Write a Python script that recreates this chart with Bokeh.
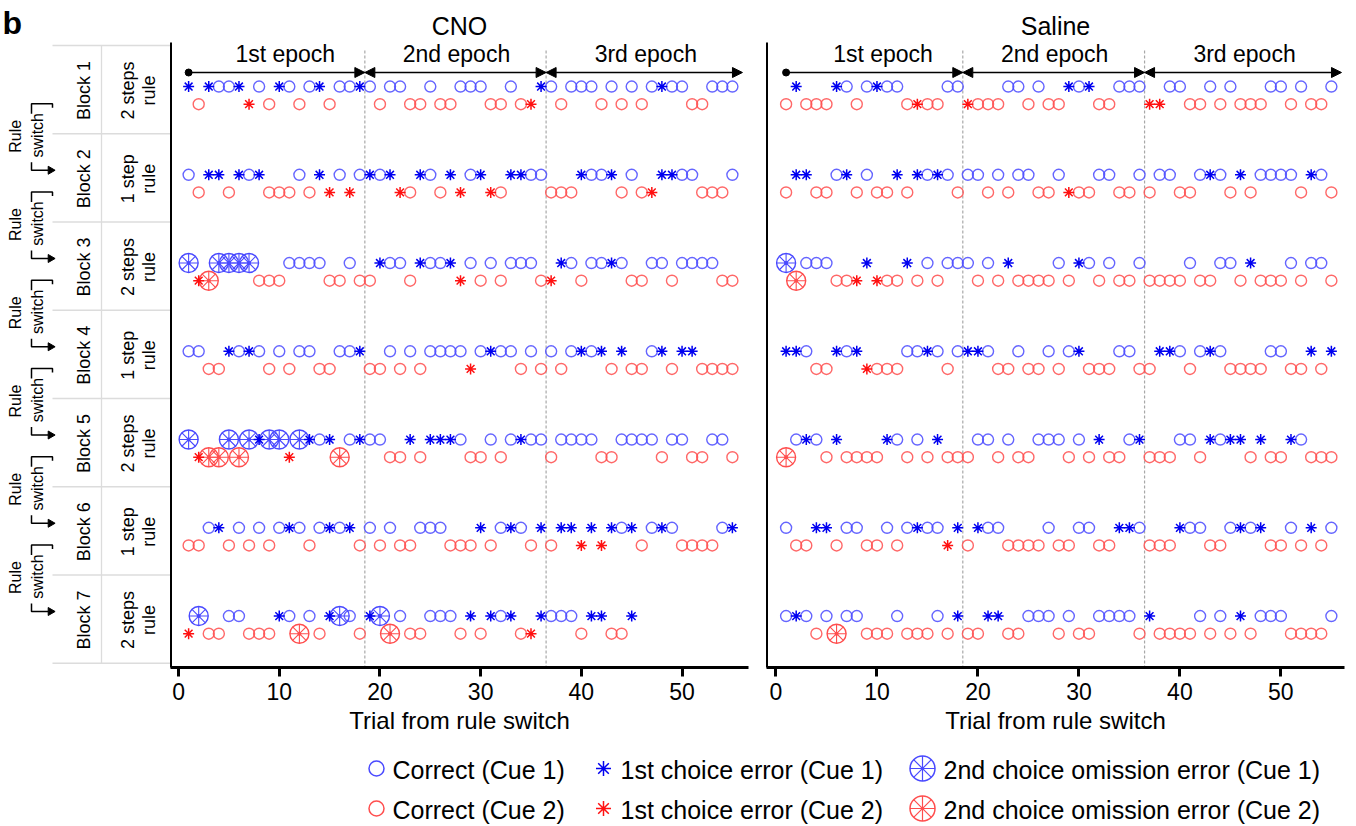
import math
from bokeh.plotting import figure
from bokeh.models import Range1d, ColumnDataSource, FixedTicker, Arrow, NormalHead
from bokeh.layouts import row, column
from bokeh.embed import file_html
from bokeh.resources import INLINE
from bokeh.core.properties import value

# ---------------- data ----------------
trial_ticks = [0, 10, 20, 30, 40, 50]
epoch_bounds = [1, 18.5, 36.5, 56]
epoch_labels = ["1st epoch", "2nd epoch", "3rd epoch"]
block_names = ["Block 1", "Block 2", "Block 3", "Block 4", "Block 5", "Block 6", "Block 7"]
block_rules = ["2 steps\nrule", "1 step\nrule", "2 steps\nrule", "1 step\nrule",
               "2 steps\nrule", "1 step\nrule", "2 steps\nrule"]
panel_titles = ["CNO", "Saline"]
legend_labels = ["Correct (Cue 1)", "1st choice error (Cue 1)", "2nd choice omission error (Cue 1)",
                 "Correct (Cue 2)", "1st choice error (Cue 2)", "2nd choice omission error (Cue 2)"]

cno_block1 = dict(
    c1_correct=[4, 5, 8, 11, 13, 16, 17, 19, 21, 22, 25, 28, 29, 30, 33, 37, 39, 40, 41, 43, 45, 47, 49, 50, 53, 54, 55],
    c1_error=[1, 3, 6, 10, 14, 18, 36, 48], c1_omit=[],
    c2_correct=[2, 9, 12, 15, 20, 23, 24, 26, 27, 31, 32, 34, 38, 42, 44, 46, 51, 52],
    c2_error=[7, 35], c2_omit=[])
cno_block2 = dict(
    c1_correct=[1, 7, 12, 16, 18, 20, 25, 29, 35, 36, 41, 42, 45, 50, 51, 55],
    c1_error=[3, 4, 6, 8, 14, 19, 21, 24, 27, 30, 33, 34, 40, 43, 48, 49], c1_omit=[],
    c2_correct=[2, 5, 9, 10, 11, 13, 23, 26, 32, 37, 38, 39, 44, 46, 52, 53, 54],
    c2_error=[15, 17, 22, 28, 31, 47], c2_omit=[])
cno_block3 = dict(
    c1_correct=[11, 12, 13, 14, 17, 21, 22, 25, 26, 29, 31, 33, 34, 35, 39, 41, 42, 44, 47, 48, 50, 51, 52, 53],
    c1_error=[20, 24, 27, 38, 43], c1_omit=[1, 4, 5, 6, 7],
    c2_correct=[8, 9, 10, 15, 16, 18, 19, 23, 30, 32, 36, 40, 45, 46, 49, 54, 55],
    c2_error=[2, 28, 37], c2_omit=[3])
cno_block4 = dict(
    c1_correct=[1, 2, 6, 8, 10, 12, 13, 16, 17, 21, 23, 25, 26, 27, 28, 30, 32, 33, 35, 37, 39, 41, 47],
    c1_error=[5, 7, 18, 31, 40, 42, 44, 48, 50, 51], c1_omit=[],
    c2_correct=[3, 4, 9, 11, 14, 15, 19, 20, 22, 24, 34, 36, 38, 43, 45, 46, 49, 52, 53, 54, 55],
    c2_error=[29], c2_omit=[])
cno_block5 = dict(
    c1_correct=[14, 17, 19, 20, 28, 31, 33, 35, 36, 38, 39, 40, 41, 44, 45, 46, 47, 49, 50, 53, 54],
    c1_error=[8, 13, 15, 18, 23, 25, 26, 27, 34], c1_omit=[1, 5, 7, 9, 10, 12],
    c2_correct=[21, 22, 24, 29, 30, 32, 37, 42, 43, 48, 51, 52, 55],
    c2_error=[2, 11], c2_omit=[3, 4, 6, 16])
cno_block6 = dict(
    c1_correct=[3, 6, 8, 10, 12, 14, 16, 19, 21, 24, 25, 26, 32, 34, 44, 47, 49, 54],
    c1_error=[4, 11, 15, 17, 30, 33, 36, 38, 39, 41, 43, 45, 48, 55], c1_omit=[],
    c2_correct=[1, 2, 5, 7, 9, 13, 18, 20, 22, 23, 27, 28, 29, 31, 35, 37, 46, 50, 51, 52, 53],
    c2_error=[40, 42], c2_omit=[])
cno_block7 = dict(
    c1_correct=[5, 6, 11, 13, 17, 22, 25, 26, 27, 32, 37, 38, 39],
    c1_error=[10, 15, 19, 29, 31, 33, 36, 41, 42, 45], c1_omit=[2, 16, 20],
    c2_correct=[3, 4, 7, 8, 9, 14, 18, 23, 24, 28, 30, 34, 40, 43, 44],
    c2_error=[1, 35], c2_omit=[12, 21])

saline_block1 = dict(
    c1_correct=[7, 9, 11, 12, 17, 18, 23, 24, 26, 30, 34, 35, 36, 39, 40, 43, 45, 49, 50, 52, 55],
    c1_error=[2, 6, 10, 29, 31], c1_omit=[],
    c2_correct=[1, 3, 4, 5, 8, 13, 15, 16, 20, 21, 22, 25, 27, 28, 32, 33, 41, 42, 44, 46, 47, 48, 51, 53, 54],
    c2_error=[14, 19, 37, 38], c2_omit=[])
saline_block2 = dict(
    c1_correct=[6, 9, 15, 17, 19, 20, 22, 24, 25, 28, 32, 33, 36, 38, 39, 42, 44, 48, 49, 50, 51, 54],
    c1_error=[2, 3, 7, 12, 14, 16, 43, 46, 53], c1_omit=[],
    c2_correct=[1, 4, 5, 8, 10, 11, 13, 18, 21, 23, 26, 27, 30, 31, 34, 35, 37, 40, 41, 45, 47, 52, 55],
    c2_error=[29], c2_omit=[])
saline_block3 = dict(
    c1_correct=[3, 4, 5, 15, 17, 18, 19, 21, 28, 31, 33, 36, 41, 44, 45, 51, 53, 54],
    c1_error=[9, 13, 23, 30, 47], c1_omit=[1],
    c2_correct=[6, 7, 11, 12, 14, 16, 20, 22, 24, 25, 26, 27, 29, 32, 34, 35, 37, 38, 39, 40, 42, 43, 46, 48, 49, 50, 52, 55],
    c2_error=[8, 10], c2_omit=[2])
saline_block4 = dict(
    c1_correct=[3, 7, 13, 14, 16, 18, 21, 24, 27, 29, 34, 35, 40, 42, 44, 49, 50],
    c1_error=[1, 2, 6, 8, 15, 19, 20, 30, 38, 39, 43, 53, 55], c1_omit=[],
    c2_correct=[4, 5, 10, 11, 12, 17, 22, 23, 25, 26, 28, 31, 32, 33, 36, 37, 41, 45, 46, 47, 48, 51, 52, 54],
    c2_error=[9], c2_omit=[])
saline_block5 = dict(
    c1_correct=[2, 4, 12, 14, 20, 21, 23, 26, 27, 28, 30, 35, 40, 41, 44, 52],
    c1_error=[3, 6, 11, 16, 32, 36, 43, 45, 46, 48, 51], c1_omit=[],
    c2_correct=[5, 7, 8, 9, 10, 13, 15, 17, 18, 19, 22, 24, 25, 29, 31, 33, 34, 37, 38, 39, 42, 47, 49, 50, 53, 54, 55],
    c2_error=[], c2_omit=[1])
saline_block6 = dict(
    c1_correct=[1, 7, 8, 11, 13, 15, 16, 21, 22, 27, 30, 31, 36, 41, 42, 45, 47, 51, 55],
    c1_error=[4, 5, 14, 18, 20, 34, 35, 40, 46, 48, 53], c1_omit=[],
    c2_correct=[2, 3, 6, 9, 10, 12, 19, 23, 24, 25, 26, 28, 29, 32, 33, 37, 38, 39, 43, 44, 49, 50, 52, 54],
    c2_error=[17], c2_omit=[])
saline_block7 = dict(
    c1_correct=[1, 3, 5, 7, 8, 12, 16, 25, 26, 27, 29, 32, 33, 34, 35, 42, 44, 48, 49, 50, 55],
    c1_error=[2, 18, 21, 22, 37, 46], c1_omit=[],
    c2_correct=[4, 9, 10, 11, 13, 14, 15, 17, 19, 20, 23, 24, 28, 30, 31, 36, 38, 39, 40, 41, 43, 45, 47, 51, 52, 53, 54],
    c2_error=[], c2_omit=[6])

cno_blocks = [cno_block1, cno_block2, cno_block3, cno_block4, cno_block5, cno_block6, cno_block7]
saline_blocks = [saline_block1, saline_block2, saline_block3, saline_block4, saline_block5, saline_block6, saline_block7]

# ---------------- style ----------------
FONT = "Liberation Sans"
BLUE_C = "#4a4aff"
BLUE_S = "#0000f0"
RED_C = "#ff4e4e"
RED_S = "#ff1010"

ROW_H = 752
TOP = 42
BOTTOM = 85
Y_RANGE_DATA = (7.483, 0.401)     # block units, inverted
ROW_OFF = 0.1
PX = 1.0 / 88.25                   # one screen pixel in block units


def txt(p, x, y, t, size, angle=0.0, align="center", baseline="middle", style="normal", color="black"):
    p.text(x=x, y=y, text=t, angle=angle, text_align=align, text_baseline=baseline,
           text_font=value(FONT), text_font_size=size, text_font_style=style, text_color=color,
           text_line_height=1.05)


def make_panel(title, blocks, xr, width, border_right):
    p = figure(width=width, height=ROW_H, x_range=Range1d(*xr), y_range=Range1d(*Y_RANGE_DATA),
               output_backend="svg", toolbar_location=None, title=title,
               min_border_left=0, min_border_right=border_right, min_border_top=TOP,
               min_border_bottom=BOTTOM)
    p.outline_line_color = None
    p.grid.visible = False
    p.title.align = "center"
    p.title.text_font = FONT
    p.title.text_font_size = "25px"
    p.title.text_font_style = "normal"
    p.title.text_color = "black"
    p.title.standoff = 6

    xa = p.xaxis[0]
    xa.ticker = FixedTicker(ticks=trial_ticks)
    xa.axis_line_width = 3
    xa.axis_line_color = "black"
    xa.major_tick_line_width = 3
    xa.major_tick_line_color = "black"
    xa.major_tick_out = 9
    xa.major_tick_in = 0
    xa.minor_tick_line_color = None
    xa.major_label_text_font = FONT
    xa.major_label_text_font_size = "23px"
    xa.major_label_text_color = "black"
    xa.major_label_standoff = 6
    xa.axis_label = "Trial from rule switch"
    xa.axis_label_text_font = FONT
    xa.axis_label_text_font_size = "24px"
    xa.axis_label_text_font_style = "normal"
    xa.axis_label_text_color = "black"
    xa.axis_label_standoff = 4

    ya = p.yaxis[0]
    ya.ticker = FixedTicker(ticks=[])
    ya.axis_line_width = 3
    ya.axis_line_color = "black"
    ya.major_tick_line_color = None
    ya.minor_tick_line_color = None
    ya.major_label_text_font_size = "0px"
    ya.major_tick_out = 0
    ya.major_label_standoff = 0

    # epoch dividers
    p.segment(x0=epoch_bounds[1:3], x1=epoch_bounds[1:3], y0=[Y_RANGE_DATA[1] + 8 * PX] * 2,
              y1=[Y_RANGE_DATA[0]] * 2, line_color="#a8a8a8", line_dash="3 2", line_width=1.2)

    # epoch arrows
    ya_arrow = 0.741
    src1 = ColumnDataSource(dict(x0=[epoch_bounds[0]], x1=[epoch_bounds[1]], y=[ya_arrow]))
    p.add_layout(Arrow(end=NormalHead(size=10, fill_color="black", line_color="black", line_width=1),
                       x_start="x0", y_start="y", x_end="x1", y_end="y", source=src1, line_width=1.6))
    src2 = ColumnDataSource(dict(x0=epoch_bounds[1:3], x1=epoch_bounds[2:4], y=[ya_arrow] * 2))
    p.add_layout(Arrow(start=NormalHead(size=10, fill_color="black", line_color="black", line_width=1),
                       end=NormalHead(size=10, fill_color="black", line_color="black", line_width=1),
                       x_start="x0", y_start="y", x_end="x1", y_end="y", source=src2, line_width=1.6))
    p.scatter(x=[epoch_bounds[0]], y=[ya_arrow], size=7, marker="circle", color="black")

    label_x = [10.6, 27.6, 46.4]
    txt(p, label_x, [0.526] * 3, epoch_labels, "23px")

    # trial markers
    cols = {k: ([], []) for k in ["c1_correct", "c1_error", "c1_omit", "c2_correct", "c2_error", "c2_omit"]}
    for i, blk in enumerate(blocks):
        k = i + 1
        for key, (xs, ys) in cols.items():
            yy = k - ROW_OFF if key.startswith("c1") else k + ROW_OFF
            xs.extend(blk[key])
            ys.extend([yy] * len(blk[key]))

    def src(key):
        return ColumnDataSource(dict(x=cols[key][0], y=cols[key][1]))

    p.scatter("x", "y", source=src("c1_correct"), marker="circle", size=11, fill_color=None,
              line_color=BLUE_C, line_width=1.4, line_alpha=0.85)
    p.scatter("x", "y", source=src("c2_correct"), marker="circle", size=11, fill_color=None,
              line_color=RED_C, line_width=1.4, line_alpha=0.85)
    for key, col in (("c1_omit", BLUE_C), ("c2_omit", RED_C)):
        s = src(key)
        p.scatter("x", "y", source=s, marker="circle", size=19, fill_color=None,
                  line_color=col, line_width=1.4)
        p.scatter("x", "y", source=s, marker="asterisk", size=19, line_color=col, line_width=1.1)
        p.scatter("x", "y", source=s, marker="circle", size=4, fill_color=col, line_color=None)
    p.scatter("x", "y", source=src("c1_error"), marker="asterisk", size=11,
              line_color=BLUE_S, line_width=1.5)
    p.scatter("x", "y", source=src("c2_error"), marker="asterisk", size=11,
              line_color=RED_S, line_width=1.5)
    return p


# ---------------- left label column (frame aligned with the panels) ----------------
left = figure(width=170, height=ROW_H, x_range=Range1d(0, 170), y_range=Range1d(*Y_RANGE_DATA),
              output_backend="svg", toolbar_location=None, x_axis_location=None, y_axis_location=None,
              title="b", min_border_left=0, min_border_right=0, min_border_top=TOP,
              min_border_bottom=BOTTOM)
left.outline_line_color = None
left.grid.visible = False
left.title.align = "left"
left.title.text_font = FONT
left.title.text_font_size = "32px"
left.title.text_font_style = "bold"
left.title.text_color = "black"
left.title.vertical_align = "top"
left.title.offset = 2
left.title.standoff = 0

nb = len(block_names)
bounds = [k + 0.435 for k in range(nb + 1)]
left.segment(x0=[52] * len(bounds), x1=[170] * len(bounds), y0=bounds, y1=bounds,
             line_color="#dcdcdc", line_width=1.3)
left.segment(x0=[101], x1=[101], y0=[bounds[0]], y1=[bounds[-1]], line_color="#dcdcdc", line_width=1.3)
centers = [k + 1 - 0.055 for k in range(nb)]
txt(left, [83] * nb, centers, block_names, "18px", angle=math.pi / 2)
txt(left, [138] * nb, centers, block_rules, "18px", angle=math.pi / 2)

sw = bounds[1:-1]
txt(left, [15] * len(sw), [b + 2.5 * PX for b in sw], ["Rule"] * len(sw), "16px", angle=math.pi / 2)
txt(left, [37] * len(sw), [b + 1.5 * PX for b in sw], ["switch"] * len(sw), "16px", angle=math.pi / 2)
for b in sw:
    yt, yb = b - 30 * PX, b + 36.5 * PX
    left.line(x=[31, 31, 52, 52], y=[yt + 10 * PX, yt, yt, yt + 4 * PX], line_color="black", line_width=1.5)
    left.line(x=[31, 31, 48], y=[yb - 8 * PX, yb, yb], line_color="black", line_width=1.5)
    left.scatter(x=[50], y=[yb], marker="triangle", angle=-math.pi / 2, size=8,
                 fill_color="black", line_color="black")

cno = make_panel(panel_titles[0], cno_blocks, (-0.8, 56.6), 596, 18)
sal = make_panel(panel_titles[1], saline_blocks, (-0.94, 56.3), 590, 12)

# ---------------- legend ----------------
leg = figure(width=1356, height=826 - ROW_H, x_range=Range1d(0, 1356), y_range=Range1d(826 - ROW_H, 0),
             output_backend="svg", toolbar_location=None, x_axis_location=None, y_axis_location=None,
             min_border_left=0, min_border_right=0, min_border_top=0, min_border_bottom=0)
leg.outline_line_color = None
leg.grid.visible = False
row_y = [16, 56]
for r, (cc, cs) in enumerate(((BLUE_C, BLUE_S), (RED_C, RED_S))):
    y = row_y[r]
    leg.scatter(x=[376], y=[y], marker="circle", size=15, fill_color=None, line_color=cc, line_width=1.5)
    leg.scatter(x=[603], y=[y], marker="asterisk", size=15, line_color=cs, line_width=1.5)
    leg.scatter(x=[922], y=[y], marker="circle", size=25, fill_color=None, line_color=cc, line_width=1.5)
    leg.scatter(x=[922], y=[y], marker="asterisk", size=25, line_color=cc, line_width=1.2)
    txt(leg, [392, 620, 943], [y + 1] * 3, legend_labels[3 * r:3 * r + 3], "25px", align="left")

layout = column(row(left, cno, sal, spacing=0), leg, spacing=0)
open("out.html", "w").write(file_html(layout, INLINE))
